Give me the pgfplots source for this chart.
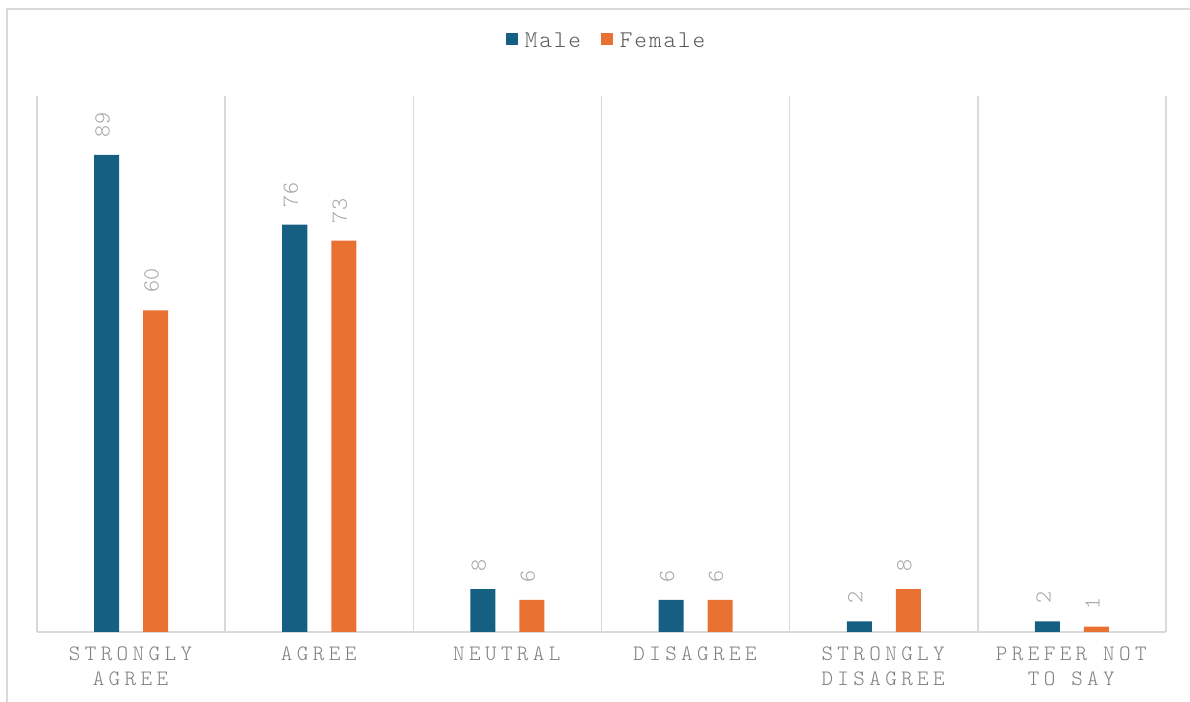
\documentclass[border=0pt]{standalone}
\usepackage{fontspec}
\setmainfont{lmmonolt10-regular.otf}
\newfontfamily\tickfont[LetterSpace=20]{lmmonolt10-regular.otf}
\newfontfamily\legendfont[LetterSpace=8]{lmmonolt10-regular.otf}
\newfontfamily\valuefont[LetterSpace=4]{lmmonolt10-regular.otf}
\usepackage{pgfplots}
\pgfplotsset{compat=1.18}
\definecolor{male}{HTML}{156082}
\definecolor{female}{HTML}{E97132}
\definecolor{gridgray}{HTML}{D9D9D9}
\definecolor{labelgray}{HTML}{A6A6A6}
\definecolor{tickgray}{HTML}{7F7F7F}
\definecolor{legendgray}{HTML}{595959}

\begin{document}
\begin{tikzpicture}[x=0.5pt,y=0.5pt]
\useasboundingbox (0,0) rectangle (1190,702);
% frame of the chart area
\draw[gridgray, line width=0.75pt] (7,0) -- (7,693) -- (1190,693);
\begin{axis}[
  at={(18.5pt,35pt)}, anchor=south west,
  scale only axis, width=564.5pt, height=268pt,
  clip=false,
  ymin=0, ymax=100,
  xmin=-0.5, xmax=5.5,
  axis y line=none,
  axis x line*=bottom,
  x axis line style={gridgray, line width=1pt, -},
  xtick={0,...,5},
  xticklabels={{STRONGLY\\AGREE},{AGREE},{NEUTRAL},{DISAGREE},{STRONGLY\\DISAGREE},{PREFER NOT\\TO SAY}},
  major tick length=0pt,
  minor xtick={-0.5,0.5,...,5.5},
  minor tick length=0pt,
  xminorgrids=true,
  minor grid style={gridgray, line width=0.75pt},
  xticklabel style={font=\tickfont\fontsize{11}{12.5}\selectfont, text=tickgray, align=center, inner sep=0pt, yshift=-7pt, xshift=-0.3pt},
  /pgf/number format/assume math mode=true,
  ybar, bar width=12.5pt,
  nodes near coords,
  every node near coord/.append style={xshift=-2pt, rotate=90, anchor=west, font=\valuefont\fontsize{11.5}{13}\selectfont, text=labelgray, inner xsep=8.5pt, inner ysep=0pt},
  legend style={at={(0.5,1)}, anchor=center, yshift=27pt, xshift=3pt, draw=none, fill=none,
    legend columns=-1, font=\legendfont\fontsize{12}{14}\selectfont, text=legendgray,
    /tikz/every odd column/.append style={column sep=1.5pt},
    /tikz/every even column/.append style={column sep=8pt}},
  legend image code/.code={\fill[#1,draw=none] (0pt,-1.5pt) rectangle (6pt,4.5pt);},
]
\addplot[fill=male, draw=none, bar shift=-12.25pt] coordinates {(0,89) (1,76) (2,8) (3,6) (4,2) (5,2)};
\addplot[fill=female, draw=none, bar shift=12.25pt] coordinates {(0,60) (1,73) (2,6) (3,6) (4,8) (5,1)};
\legend{Male, Female}
\end{axis}
\end{tikzpicture}
\end{document}
